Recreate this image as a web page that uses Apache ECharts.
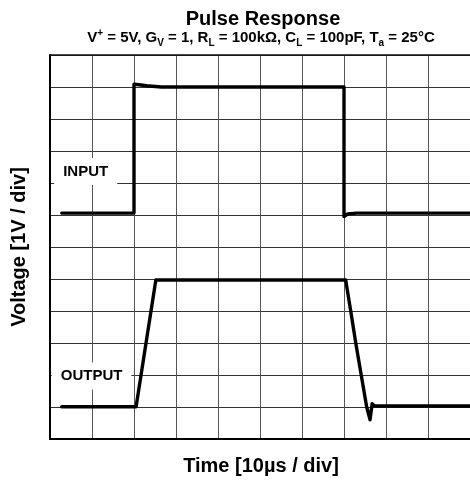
<!DOCTYPE html>
<html>
<head>
<meta charset="utf-8">
<script src="https://cdn.jsdelivr.net/npm/echarts@6/dist/echarts.min.js"></script>
<style>
  html, body { margin: 0; padding: 0; background: #fff; }
  #chart { width: 470px; height: 481px; }
</style>
</head>
<body>
<div id="chart"></div>
<script>
// Scope traces, in divisions: [time div, voltage div]
const inputTrace = [
  [0.28, 7.06], [2.0, 7.06], [2.0, 11.09], [2.12, 11.07], [2.3, 11.04],
  [2.65, 11.0], [7.0, 11.0], [7.0, 6.95], [7.08, 7.03], [7.3, 7.06], [10, 7.06]
];
const outputTrace = [
  [0.28, 1.01], [2.05, 1.01], [2.52, 4.97], [7.04, 4.97], [7.16, 4.0],
  [7.28, 3.0], [7.41, 2.0], [7.54, 1.0], [7.62, 0.6], [7.67, 1.1],
  [7.73, 1.03], [10, 1.03]
];
const traceNames = ['INPUT', 'OUTPUT'];
const timeDivisions = 10;
const voltageDivisions = 12;

const titleText = 'Pulse Response';
const conditionText = 'V{sup|+} = 5V, G{sub|V} = 1, R{sub|L} = 100kΩ, C{sub|L} = 100pF, T{sub|a} = 25°C';
const xAxisTitle = 'Time [10µs / div]';
const yAxisTitle = 'Voltage [1V / div]';

const FONT = "'Liberation Sans', Arial, Helvetica, sans-serif";
const chart = echarts.init(document.getElementById('chart'), null, { renderer: 'canvas' });

const tagLabel = {
  show: true,
  position: 'inside',
  formatter: '{b}',
  color: '#000',
  fontFamily: FONT,
  fontWeight: 'bold',
  fontSize: 15,
  lineHeight: 15,
  backgroundColor: '#fff',
  padding: [6, 9]
};

function traceSeries(name, data, tagCoord) {
  return {
    name: name,
    type: 'line',
    data: data,
    showSymbol: false,
    symbol: 'none',
    smooth: false,
    lineStyle: { color: '#000', width: 3.4, join: 'round', cap: 'round' },
    z: 3,
    markPoint: {
      symbol: 'rect',
      symbolSize: 1,
      itemStyle: { color: 'rgba(0,0,0,0)' },
      label: tagLabel,
      animation: false,
      data: [{ name: name, coord: tagCoord }]
    }
  };
}

chart.setOption({
  animation: false,
  backgroundColor: '#fff',
  grid: { left: 50, top: 55, right: -3, bottom: 42, containLabel: false },
  xAxis: [{
    type: 'value', min: 0, max: timeDivisions, interval: 1,
    axisLine: { show: true, onZero: false, lineStyle: { color: '#000', width: 2 } },
    axisTick: { show: false }, axisLabel: { show: false },
    splitLine: { show: true, lineStyle: { color: '#555', width: 1 } }
  }, {
    type: 'value', position: 'top', min: 0, max: timeDivisions, interval: 1,
    axisLine: { show: true, onZero: false, lineStyle: { color: '#111', width: 1.5 } },
    axisTick: { show: false }, axisLabel: { show: false }, splitLine: { show: false }
  }],
  yAxis: {
    type: 'value', min: 0, max: voltageDivisions, interval: 1,
    axisLine: { show: true, onZero: false, lineStyle: { color: '#000', width: 2 } },
    axisTick: { show: false }, axisLabel: { show: false },
    splitLine: { show: true, lineStyle: { color: '#333', width: 1 } }
  },
  series: [
    traceSeries(traceNames[0], inputTrace, [0.85, 8.36]),
    traceSeries(traceNames[1], outputTrace, [0.99, 1.97])
  ],
  graphic: [
    {
      type: 'text', x: 263, y: 19,
      style: { text: titleText, font: "bold 20px " + FONT, fill: '#000', align: 'center', verticalAlign: 'middle' }
    },
    {
      type: 'text', x: 261, y: 38,
      style: {
        text: conditionText, fill: '#000', align: 'center', verticalAlign: 'middle',
        font: "bold 15px " + FONT, lineHeight: 20,
        rich: {
          sup: { fontFamily: FONT, fontWeight: 'bold', fontSize: 10, lineHeight: 10, verticalAlign: 'top' },
          sub: { fontFamily: FONT, fontWeight: 'bold', fontSize: 10, lineHeight: 10, verticalAlign: 'bottom' }
        }
      }
    },
    {
      type: 'text', x: 261, y: 466,
      style: { text: xAxisTitle, font: "bold 20px " + FONT, fill: '#000', align: 'center', verticalAlign: 'middle' }
    },
    {
      type: 'text', x: 19, y: 247, rotation: Math.PI / 2,
      style: { text: yAxisTitle, font: "bold 20px " + FONT, fill: '#000', align: 'center', verticalAlign: 'middle' }
    }
  ]
});
</script>
</body>
</html>
